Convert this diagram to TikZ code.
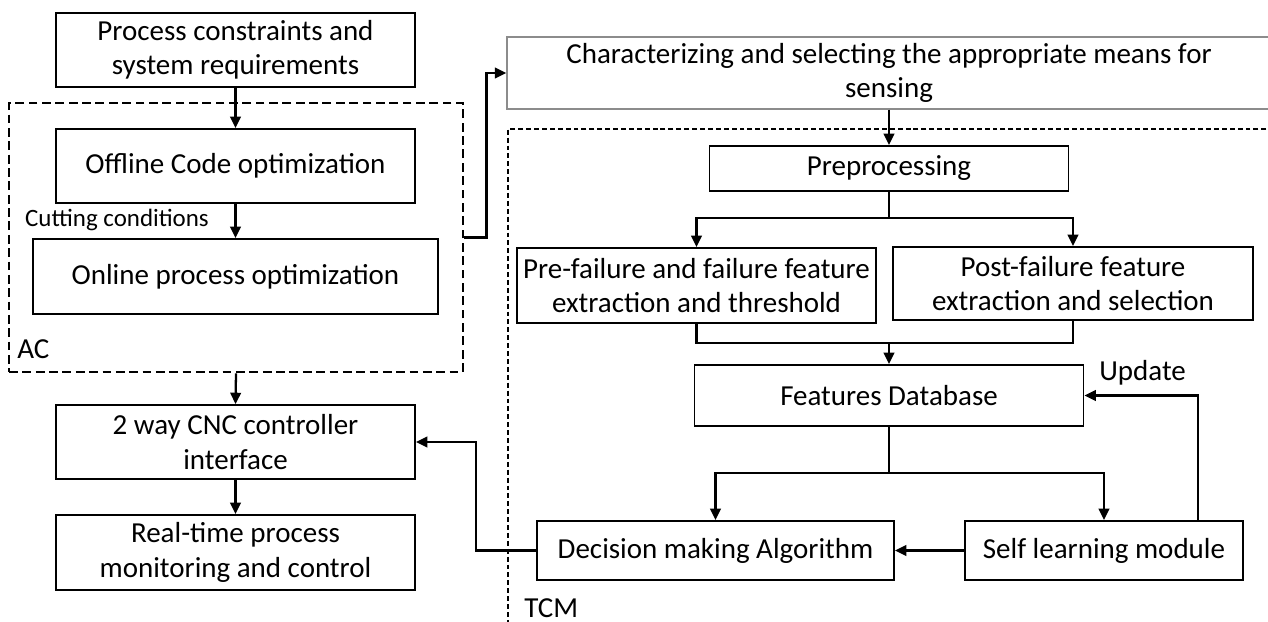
\documentclass[tikz,border=0pt]{standalone}
\usepackage{fontspec}
\setmainfont{Carlito}
\usetikzlibrary{arrows.meta, positioning}

\begin{document}
\begin{tikzpicture}[
    x=0.02cm, y=-0.02cm,
    box/.style={draw, line width=1pt, align=center, inner sep=2pt,
        font=\fontsize{16.5}{19.5}\selectfont},
    sensebox/.style={box, draw=black!45, line width=0.8pt},
    acbox/.style={draw, line width=1.6pt, dash pattern=on 5pt off 2.6pt},
    tcmbox/.style={draw, line width=0.9pt, dash pattern=on 2.8pt off 1.7pt},
    arr/.style={line width=1.3pt, -{Triangle[length=6.5pt, width=6pt]}},
    link/.style={line width=1.3pt},
    lbl/.style={font=\fontsize{16.5}{19.5}\selectfont}]

\useasboundingbox (0,0) rectangle (1268,622);

% AC side
\node[box, minimum width=7.18cm, minimum height=1.48cm] (pcs) at (235.5,50)
    {Process constraints and\\system requirements};
\node[acbox, minimum width=9.08cm, minimum height=5.38cm] (ac) at (236,237.5) {};
\node[box, minimum width=7.18cm, minimum height=1.48cm] (offline) at (235.5,166)
    {Offline Code optimization};
\node[box, minimum width=8.10cm, minimum height=1.50cm] (online) at (235.5,276.5)
    {Online process optimization};
\node[font=\fontsize{14.2}{16}\selectfont] (cut) at (117,220) {Cutting conditions};
\node[lbl, anchor=west, inner sep=0pt] (aclabel) at (17,349) {AC};
\node[box, minimum width=7.18cm, minimum height=1.48cm] (cnc) at (235.5,442)
    {2 way CNC controller\\interface};
\node[box, minimum width=7.18cm, minimum height=1.50cm] (rt) at (235.5,552.5)
    {Real-time process\\monitoring and control};

% TCM side
\node[sensebox, minimum width=15.28cm, minimum height=1.44cm] (sense) at (889,73)
    {Characterizing and selecting the appropriate means for\\sensing};
\draw[tcmbox] (1290,129) -| (508,640);
\node[lbl, anchor=west, inner sep=0pt] (tcmlabel) at (524,608) {TCM};
\node[box, minimum width=7.18cm, minimum height=0.90cm] (prep) at (889,168.5)
    {Preprocessing};
\node[box, minimum width=7.18cm, minimum height=1.50cm] (pre) at (696.5,285.5)
    {Pre-failure and failure feature\\extraction and threshold};
\node[box, minimum width=7.20cm, minimum height=1.46cm] (post) at (1073,283.5)
    {Post-failure feature\\extraction and selection};
\node[box, minimum width=7.78cm, minimum height=1.22cm] (fdb) at (889,395.5)
    {Features Database};
\node[box, minimum width=7.14cm, minimum height=1.18cm] (dec) at (715.5,550.5)
    {Decision making Algorithm};
\node[box, minimum width=5.56cm, minimum height=1.18cm] (self) at (1104,550.5)
    {Self learning module};
\node[lbl, anchor=west, inner sep=0pt] (update) at (1099,373) {Update};

% connectors
\draw[arr] (pcs) -- (offline);
\draw[arr] (offline) -- (online);
\draw[arr] (ac.east) -- ++(22,0) |- (sense.west);
\draw[arr] (ac.south) -- (cnc.north);
\draw[arr] (cnc) -- (rt);
\draw[arr] (sense.south) -- (prep.north);
\coordinate (split) at (889,218);
\draw[link] (prep.south) -- (split);
\draw[arr] (split) -| (pre.north);
\draw[arr] (split) -| (post.north);
\coordinate (merge) at (889,343);
\draw[link] (pre.south) |- (merge) -| (post.south);
\draw[arr] (merge) -- (fdb.north);
\coordinate (fork) at (889,473);
\draw[link] (fdb.south) -- (fork);
\draw[arr] (fork) -| (dec.north);
\draw[arr] (fork) -| (self.north);
\draw[arr] (self.west) -- (dec.east);
\draw[arr] ([xshift=-0.92cm]self.north east) |- (fdb.east);
\draw[arr] (dec.west) -- ++(-60,0) |- (cnc.east);

\end{tikzpicture}
\end{document}
